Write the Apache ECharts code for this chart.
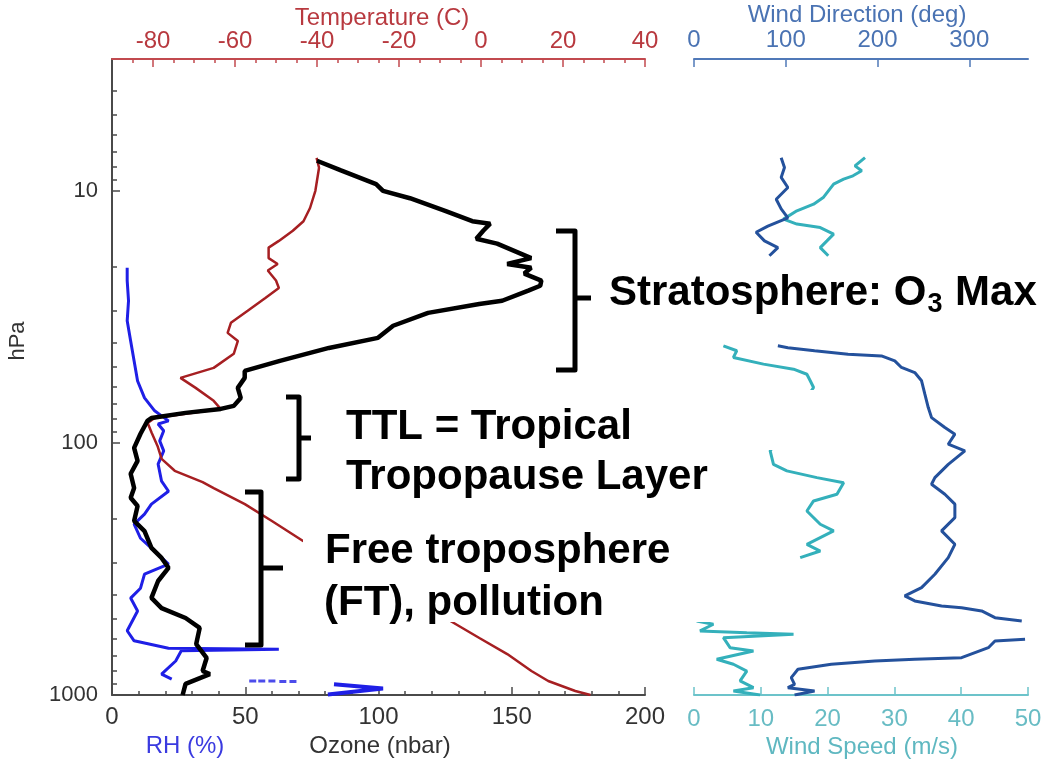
<!DOCTYPE html>
<html><head><meta charset="utf-8">
<script src="https://cdn.jsdelivr.net/npm/echarts@6/dist/echarts.min.js"></script>
<style>html,body{margin:0;padding:0;background:#fff}#c{width:1047px;height:763px}</style>
</head><body><div id="c"></div>
<script>
// ---------- tick labels ----------
const pressureTicks = [10, 100, 1000];
const pressureMinorTicks = [4,5,6,7,8,9,20,30,40,50,60,70,80,90,200,300,400,500,600,700,800,900];
const tempTicks = [-80, -60, -40, -20, 0, 20, 40];
const tempMinorTicks = [-85,-75,-70,-65,-55,-50,-45,-35,-30,-25,-15,-10,-5,5,10,15,25,30,35];
const dirTicks = [0, 100, 200, 300];

// ---------- temperature (C) vs pressure (hPa) ----------
const tempP = [7.4, 8.1, 10, 11.7, 13.2, 14.4, 15.8, 16.8, 18.5, 19.5, 20.7, 22.7, 24.3, 26.6, 29.9, 33.4, 36.6, 39.4, 44.3, 50.4, 55.2, 60.5, 68.1, 73.3, 79.6, 83.4, 91.3, 102.8, 115.7, 129, 143, 151, 175, 204, 245, 495, 594, 688, 803, 880, 964, 1000];
const tempC = [-40.1, -39.5, -40.4, -41.7, -43.3, -45.9, -49.3, -51.8, -51.8, -49.6, -52.0, -50.0, -49.3, -52.6, -56.9, -61.0, -61.8, -59.3, -60.3, -65.2, -73.3, -69.6, -65.2, -63.5, -79.6, -81.3, -80.3, -78.9, -77.9, -74.7, -67.9, -65.2, -57.6, -51.0, -43.4, -8.7, -0.4, 6.4, 12.3, 16.4, 23.0, 26.7];

// ---------- ozone (nbar) ----------
const ozoneP = [7.6, 8.3, 9.4, 10, 10.7, 12.0, 13.2, 13.5, 14.4, 15.5, 16.2, 18.5, 19.5, 20.2, 21.3, 22.7, 23.8, 24.9, 27.3, 28.1, 30.5, 34.3, 38.3, 42.0, 47.3, 51.8, 55.2, 60.5, 66.3, 71.3, 73.3, 76.0, 79.6, 81.8, 92, 104.7, 117.8, 132.6, 151, 165, 178, 204, 224, 261, 286, 313, 353, 412, 452, 495, 542, 628, 713, 803, 826, 904, 1000];
const ozone = [76.9, 85.9, 99.1, 101.7, 111.8, 125.0, 135.2, 141.9, 139.3, 136.7, 144.5, 157.3, 148.3, 157.3, 154.7, 161.1, 160.7, 156.2, 146.4, 137.8, 118.6, 105.5, 99.8, 81.4, 63.0, 49.8, 49.8, 47.2, 48.3, 45.7, 40.8, 27.6, 14.8, 13.3, 10.7, 8.3, 9.6, 7.0, 8.3, 7.0, 9.6, 8.3, 12.2, 14.8, 18.6, 21.2, 17.3, 14.8, 18.6, 27.6, 32.9, 31.6, 35.5, 34.0, 36.7, 27.6, 26.5];

// ---------- relative humidity (%) ----------
const rhP = [20.2, 22.7, 27.3, 32.8, 39.4, 47.3, 56.8, 66.3, 74.6, 78.1, 81.8, 84.1, 89.5, 98.2, 107.6, 121.3, 141.9, 155.5, 174.9, 191.6, 210, 238.9, 268.9, 302.7, 331.7, 377, 412.6, 464, 556, 609.5, 652, 658, 668, 733, 826, 865];
const rh = [5.7, 5.7, 6.2, 5.7, 7.0, 8.3, 9.6, 12.2, 16.0, 18.6, 21.2, 17.3, 19.4, 17.9, 19.4, 17.3, 18.6, 21.2, 14.8, 12.2, 8.3, 10.7, 16.0, 21.2, 12.2, 10.7, 7.0, 9.6, 5.7, 8.3, 21.2, 62.6, 26.0, 23.9, 18.6, 22.4];
const rhDotsP = [880, 880, 880, 884, 884];
const rhDots = [52.8, 56.2, 60.0, 64.1, 67.9];
const rhSurfP = [907, 943, 995];
const rhSurf = [83.3, 101.7, 81.0];

// ---------- wind direction (deg), null = gap ----------
const windDirP = [7.39, 8.08, 8.85, 9.7, 10.8, 11.8, 12.8, 13.8, 14.6, 15.8, 16.8, 18.1, null,
  41.2, 41.9, 43.1, 44.5, 45.2, 47.3, 50.2, 52.6, 56.7, 64.1, 72.4, 79.4, 86.9, 92.3, 101.2, 107.6, 121.6, 137.3, 145.9, 159.9, 175, 197.8, 223.4, 252.5, 285.2, 331.9, 375, 404.6, 423.6, 443.6, 450.6, 464.1, 493.4, 508.4, null,
  601.6, 610.6, 649.2, 711, 721.5, 732.8, 755, 790.5, 853.7, 907.5, 935.5, 964, 1000];
const windDir = [95, 98.6, 95, 102.3, 89.6, 95, 102.3, 80.5, 67.7, 76.8, 91.4, 82.2, null,
  91.4, 102.3, 131.4, 167.9, 204.3, 218.8, 226.1, 240.6, 248, 251.6, 255.3, 258.9, 273.4, 284.3, 277.1, 295.2, 277.1, 262.5, 258.9, 273.4, 284.3, 284.3, 269.8, 284.3, 277.1, 262.5, 248, 229.7, 240.6, 269.8, 291.6, 313.5, 328, 357.2, null,
  360.8, 328, 320.8, 291.6, 240.6, 197, 149.6, 113.3, 106, 109.6, 102.3, 131.4, 109.6];

// ---------- wind speed (m/s), null = gap ----------
const windSpdP = [7.38, 7.96, 8.33, 8.72, 8.99, 9.41, 10.6, 11.3, 12.0, 12.95, 13.55, 13.99, 14.85, 15.8, 16.8, 18.1, null,
  41.2, 43.1, 45.8, 48.7, 51.0, 53.4, 56.7, 60.3, 107.6, 121.6, 129.1, 137.3, 143.8, 159.9, 169.9, 186.2, 210.2, 223.4, 252.5, 268.5, 285.2, null,
  508.4, 524, 557, 566, 574.5, 592.4, 649.2, 668.6, 721.5, 755, 803.5, 879.6, 935.5, 964, 1000];
const windSpd = [25.6, 24.1, 25.1, 23.8, 22.4, 20.9, 19.4, 17.9, 15.4, 13.4, 15.4, 18.9, 20.9, 19.9, 18.9, 20.1, null,
  4.4, 6.4, 5.9, 10.4, 14.9, 16.9, 17.4, 17.9, 11.4, 11.9, 13.9, 18.4, 22.4, 21.4, 17.9, 16.9, 18.9, 20.9, 16.9, 18.9, 15.9, null,
  0.4, 2.9, 0.9, 7.9, 14.9, 4.4, 5.4, 8.9, 3.4, 5.9, 7.9, 6.9, 8.9, 5.9, 9.9];

// ---------- build ----------
const FONT = '"Liberation Sans", Arial, Helvetica, sans-serif';
const toPts = (xs, ps) => ps.map((p, i) => (p == null || xs[i] == null) ? ['-', '-'] : [xs[i], p]);

const RED_AX = '#c24a4f', RED_LINE = '#a61f22';
const GREY = '#4a4a4a';
const DIR_AX = '#5079b8', DIR_LINE = '#24519c';
const SPD_AX = '#6cc3ca', SPD_LINE = '#34b0bb';

function xAx(o) {
  return Object.assign({
    type: 'value', splitLine: {show: false}, minorSplitLine: {show: false},
    axisLine: {onZero: false}, axisPointer: {show: false}
  }, o);
}

const ANN = 'bold 42px "Liberation Sans", Arial, sans-serif';
const ANN_SUB = 'bold 27px "Liberation Sans", Arial, sans-serif';
const mctx = document.createElement('canvas').getContext('2d');
mctx.font = ANN;
const wStrat = mctx.measureText('Stratosphere: O').width;
mctx.font = ANN_SUB;
const wSub = mctx.measureText('3').width;

function txt(x, y, text, font, fill, align, rot) {
  return {type: 'text', x: x, y: y, z: 120, rotation: rot || 0,
    style: {text: text, font: font, fill: fill, align: align || 'left', textAlign: align || 'left',
            verticalAlign: 'middle', textVerticalAlign: 'middle'}};
}
function box(x, y, w, h) {
  return {type: 'rect', z: 110, shape: {x: x, y: y, width: w, height: h}, style: {fill: '#fff'}};
}
function brk(pts) {
  return {type: 'polyline', z: 130, shape: {points: pts},
    style: {stroke: '#000', lineWidth: 5, fill: null, lineJoin: 'round', lineCap: 'butt'}};
}

const AXF = 24;
const option = {
  animation: false,
  backgroundColor: '#fff',
  grid: [
    {left: 112, top: 59, width: 533, height: 636},
    {left: 694, top: 59, width: 334, height: 636}
  ],
  xAxis: [
    xAx({gridIndex: 0, position: 'bottom', min: 0, max: 200, interval: 50,
      axisLine: {onZero: false, lineStyle: {color: GREY, width: 2}},
      axisTick: {inside: true, length: 8, lineStyle: {color: GREY, width: 1.5}},
      minorTick: {show: true, splitNumber: 5, length: 4, lineStyle: {color: GREY, width: 1.5}},
      axisLabel: {color: '#333', fontSize: AXF, fontFamily: FONT, margin: 10}}),
    xAx({gridIndex: 0, position: 'top', min: -90, max: 40,
      axisLine: {onZero: false, lineStyle: {color: RED_AX, width: 2}},
      axisTick: {inside: true, length: 8, customValues: tempTicks, lineStyle: {color: RED_AX, width: 1.5}},
      axisLabel: {customValues: tempTicks, color: '#b8393f', fontSize: AXF, fontFamily: FONT, margin: 6}}),
    xAx({gridIndex: 0, position: 'top', min: -90, max: 40,
      axisLine: {show: false, onZero: false},
      axisTick: {inside: true, length: 4, customValues: tempMinorTicks, lineStyle: {color: RED_AX, width: 1.5}},
      axisLabel: {show: false}}),
    xAx({gridIndex: 1, position: 'bottom', min: 0, max: 50, interval: 10,
      axisLine: {onZero: false, lineStyle: {color: SPD_AX, width: 2}},
      axisTick: {inside: true, length: 8, lineStyle: {color: SPD_AX, width: 1.5}},
      axisLabel: {color: '#68bcc4', fontSize: AXF, fontFamily: FONT, margin: 12}}),
    xAx({gridIndex: 1, position: 'top', min: 0, max: 364,
      axisLine: {onZero: false, lineStyle: {color: DIR_AX, width: 2}},
      axisTick: {inside: true, length: 8, customValues: dirTicks, lineStyle: {color: DIR_AX, width: 1.5}},
      axisLabel: {customValues: dirTicks, color: '#4a73b3', fontSize: AXF, fontFamily: FONT, margin: 7}})
  ],
  yAxis: [
    {gridIndex: 0, type: 'log', logBase: 10, min: 3, max: 1000, inverse: true, position: 'left',
      splitLine: {show: false}, axisPointer: {show: false},
      axisLine: {onZero: false, lineStyle: {color: GREY, width: 2}},
      axisTick: {inside: true, length: 8, customValues: pressureTicks, lineStyle: {color: GREY, width: 1.5}},
      axisLabel: {customValues: pressureTicks, formatter: v => String(Math.round(v)),
        color: '#333', fontSize: 22, fontFamily: FONT, margin: 14}},
    {gridIndex: 0, type: 'log', logBase: 10, min: 3, max: 1000, inverse: true, position: 'left',
      splitLine: {show: false}, axisPointer: {show: false},
      axisLine: {show: false, onZero: false},
      axisTick: {inside: true, length: 5, customValues: pressureMinorTicks, lineStyle: {color: GREY, width: 1.5}},
      axisLabel: {show: false}},
    {gridIndex: 1, type: 'log', logBase: 10, min: 3, max: 1000, inverse: true, show: false}
  ],
  series: [
    {type: 'line', name: 'RH', xAxisIndex: 0, yAxisIndex: 0, data: toPts(rh, rhP), showSymbol: false, symbol: 'none',
      lineStyle: {color: '#1f1fe6', width: 3}},
    {type: 'line', name: 'RH surface', xAxisIndex: 0, yAxisIndex: 0, data: toPts(rhSurf, rhSurfP), symbol: 'none',
      lineStyle: {color: '#1f1fe6', width: 4}},
    {type: 'scatter', name: 'RH dots', xAxisIndex: 0, yAxisIndex: 0, data: toPts(rhDots, rhDotsP),
      symbol: 'rect', symbolSize: [7, 3], itemStyle: {color: '#1f1fe6'}},
    {type: 'line', name: 'Temperature', xAxisIndex: 1, yAxisIndex: 0, data: toPts(tempC, tempP), symbol: 'none',
      lineStyle: {color: RED_LINE, width: 2.5}},
    {type: 'line', name: 'Ozone', xAxisIndex: 0, yAxisIndex: 0, data: toPts(ozone, ozoneP), symbol: 'none',
      lineStyle: {color: '#000', width: 4.5}},
    {type: 'line', name: 'Wind Speed', xAxisIndex: 3, yAxisIndex: 2, data: toPts(windSpd, windSpdP), symbol: 'none',
      connectNulls: false, lineStyle: {color: SPD_LINE, width: 3}},
    {type: 'line', name: 'Wind Direction', xAxisIndex: 4, yAxisIndex: 2, data: toPts(windDir, windDirP), symbol: 'none',
      connectNulls: false, lineStyle: {color: DIR_LINE, width: 3}}
  ],
  graphic: {elements: [
    // axis names
    txt(382, 18, 'Temperature (C)', AXF + 'px ' + FONT, '#b8393f', 'center'),
    txt(857, 15, 'Wind Direction (deg)', AXF + 'px ' + FONT, '#4a73b3', 'center'),
    txt(185, 746, 'RH (%)', AXF + 'px ' + FONT, '#3a3ae0', 'center'),
    txt(380, 746, 'Ozone (nbar)', AXF + 'px ' + FONT, '#333', 'center'),
    txt(862, 747, 'Wind Speed (m/s)', AXF + 'px ' + FONT, '#5fb8c1', 'center'),
    txt(18, 341, 'hPa', '22px ' + FONT, '#333', 'center', Math.PI / 2),
    // white label boxes
    box(598, 257, 449, 86),
    box(338, 390, 484, 60),
    box(338, 450, 407, 55),
    box(303, 522, 495, 100),
    // annotation texts
    txt(609, 293, 'Stratosphere: O', ANN, '#000'),
    txt(609 + wStrat + 1, 305, '3', ANN_SUB, '#000'),
    txt(609 + wStrat + wSub + 2, 293, ' Max', ANN, '#000'),
    txt(346, 427, 'TTL = Tropical', ANN, '#000'),
    txt(346, 477, 'Tropopause Layer', ANN, '#000'),
    txt(325, 551, 'Free troposphere', ANN, '#000'),
    txt(324, 603, '(FT), pollution', ANN, '#000'),
    // brackets
    brk([[556, 231], [575, 231], [575, 370], [556, 370]]),
    brk([[575, 298], [591, 298]]),
    brk([[286, 397], [299, 397], [299, 479], [286, 479]]),
    brk([[299, 438], [311, 438]]),
    brk([[245, 492], [261, 492], [261, 645], [245, 645]]),
    brk([[261, 568], [283, 568]])
  ]}
};
const chart = echarts.init(document.getElementById('c'), null, {renderer: 'canvas'});
chart.setOption(option);
</script>
</body></html>
